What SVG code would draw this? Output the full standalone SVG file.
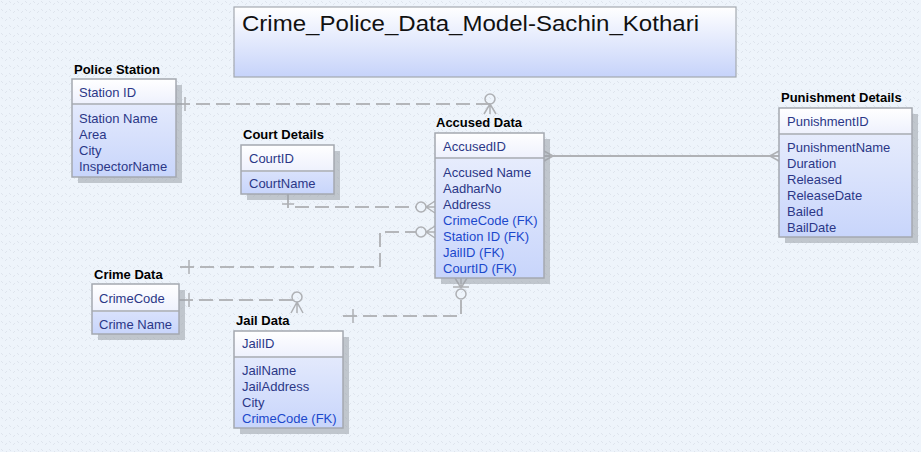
<svg xmlns="http://www.w3.org/2000/svg" width="921" height="452" viewBox="0 0 921 452">
<defs>
<pattern id="bg" width="8" height="8" patternUnits="userSpaceOnUse">
<rect width="8" height="8" fill="#eef4fb"/>
<path d="M1,1 l2,2 M5,5 l2,-2" stroke="#d9e0ea" stroke-width="0.8"/>
</pattern>
<linearGradient id="title" x1="0" y1="0" x2="0" y2="1">
<stop offset="0" stop-color="#ffffff"/>
<stop offset="1" stop-color="#c6d3fa"/>
</linearGradient>
<linearGradient id="head" x1="0" y1="0" x2="0" y2="1">
<stop offset="0" stop-color="#ffffff"/>
<stop offset="1" stop-color="#eef1fd"/>
</linearGradient>
<linearGradient id="body" x1="0" y1="0" x2="0" y2="1">
<stop offset="0" stop-color="#edf1fd"/>
<stop offset="1" stop-color="#c8d5fb"/>
</linearGradient>
</defs>
<style>
.shadow{fill:#9aa0a8;opacity:0.55}
.hd{fill:url(#head);stroke:none}
.bd{fill:url(#body);stroke:none}
.frame{fill:none;stroke:#a4a8b0;stroke-width:1.5}
.div{stroke:#b8bcc4;stroke-width:2}
.lbl{font-family:"Liberation Sans",Arial,sans-serif;font-size:13px;font-weight:bold;fill:#000}
.at{font-family:"Liberation Sans",Arial,sans-serif;font-size:13px;fill:#2b3787}
.fk{font-family:"Liberation Sans",Arial,sans-serif;font-size:13px;fill:#1b48cc}
.dash{fill:none;stroke:#b4b6ba;stroke-width:2;stroke-dasharray:14,6}
.sym{fill:none;stroke:#aeb0b4;stroke-width:1.5}
</style>
<rect width="921" height="452" fill="url(#bg)"/>

<g id="title-box">
<rect x="234" y="7" width="502" height="70" fill="url(#title)" stroke="#a4a8b0" stroke-width="1.2"/>
<text x="242" y="31" font-family="Liberation Sans,Arial,sans-serif" font-size="22" fill="#111" textLength="457" lengthAdjust="spacingAndGlyphs">Crime_Police_Data_Model-Sachin_Kothari</text>
</g>

<g id="connectors">
<!-- Police Station -> Accused Data -->
<path class="dash" d="M176,104 H490"/>
<path class="sym" d="M185,97 V111"/>
<circle class="sym" cx="490" cy="99" r="5"/>
<path class="sym" d="M490,104 V114 M490,104 L484,114 M490,104 L496,114"/>
<!-- Court Details -> Accused Data -->
<path class="dash" d="M288,194 V207 H416"/>
<path class="sym" d="M282,204 H294"/>
<circle class="sym" cx="421" cy="207" r="5"/>
<path class="sym" d="M426,207 H435 M426,207 L435,201 M426,207 L435,213"/>
<!-- Crime Data -> Accused Data -->
<path class="dash" d="M180,267 H380 V232 H416"/>
<path class="sym" d="M189,260 V274"/>
<circle class="sym" cx="421" cy="232" r="5"/>
<path class="sym" d="M426,232 H435 M426,232 L435,226 M426,232 L435,238"/>
<!-- Crime Data -> Jail Data -->
<path class="dash" d="M179,300 H297"/>
<path class="sym" d="M189,293 V307"/>
<circle class="sym" cx="297" cy="297" r="5"/>
<path class="sym" d="M297,302 V313 M297,302 L291,313 M297,302 L303,313"/>
<!-- Jail Data -> Accused Data -->
<path class="dash" d="M343,316 H461 V300"/>
<path class="sym" d="M353,309 V323"/>
<circle class="sym" cx="461" cy="294" r="5"/>
<path class="sym" d="M461,288 V278 M461,288 L455,278 M461,288 L467,278 M453,287 H469"/>
<!-- Accused Data -> Punishment Details -->
<path d="M544,156 H779" fill="none" stroke="#b0b2b6" stroke-width="2"/>
<path class="sym" d="M553,156 L544,151 M553,156 L544,161"/>
<path class="sym" d="M770,156 L779,151 M770,156 L779,161"/>
</g>

<g id="police-station">
<rect class="shadow" x="78" y="85" width="104" height="98"/>
<rect class="bd" x="72" y="79" width="104" height="98"/>
<rect class="hd" x="72" y="79" width="104" height="25"/>
<line class="div" x1="72" y1="104" x2="176" y2="104"/>
<rect class="frame" x="72" y="79" width="104" height="98"/>
<text class="lbl" x="74" y="74">Police Station</text>
<text class="at" x="79" y="97">Station ID</text>
<text class="at" x="79" y="123">Station Name</text>
<text class="at" x="79" y="139">Area</text>
<text class="at" x="79" y="155">City</text>
<text class="at" x="79" y="171">InspectorName</text>
</g>

<g id="court-details">
<rect class="shadow" x="247" y="151" width="93" height="49"/>
<rect class="bd" x="241" y="145" width="93" height="49"/>
<rect class="hd" x="241" y="145" width="93" height="26"/>
<line class="div" x1="241" y1="171" x2="334" y2="171"/>
<rect class="frame" x="241" y="145" width="93" height="49"/>
<text class="lbl" x="243" y="139">Court Details</text>
<text class="at" x="249" y="163">CourtID</text>
<text class="at" x="249" y="188">CourtName</text>
</g>

<g id="accused-data">
<rect class="shadow" x="441" y="139" width="109" height="145"/>
<rect class="bd" x="435" y="133" width="109" height="145"/>
<rect class="hd" x="435" y="133" width="109" height="25"/>
<line class="div" x1="435" y1="158" x2="544" y2="158"/>
<rect class="frame" x="435" y="133" width="109" height="145"/>
<text class="lbl" x="436" y="127">Accused Data</text>
<text class="at" x="443" y="151">AccusedID</text>
<text class="at" x="443" y="177">Accused Name</text>
<text class="at" x="443" y="193">AadharNo</text>
<text class="at" x="443" y="209">Address</text>
<text class="fk" x="443" y="225">CrimeCode (FK)</text>
<text class="fk" x="443" y="241">Station ID (FK)</text>
<text class="fk" x="443" y="257">JailID (FK)</text>
<text class="fk" x="443" y="273">CourtID (FK)</text>
</g>

<g id="punishment-details">
<rect class="shadow" x="785" y="114" width="133" height="129"/>
<rect class="bd" x="779" y="108" width="133" height="129"/>
<rect class="hd" x="779" y="108" width="133" height="26"/>
<line class="div" x1="779" y1="134" x2="912" y2="134"/>
<rect class="frame" x="779" y="108" width="133" height="129"/>
<text class="lbl" x="781" y="102">Punishment Details</text>
<text class="at" x="787" y="126">PunishmentID</text>
<text class="at" x="787" y="152">PunishmentName</text>
<text class="at" x="787" y="168">Duration</text>
<text class="at" x="787" y="184">Released</text>
<text class="at" x="787" y="200">ReleaseDate</text>
<text class="at" x="787" y="216">Bailed</text>
<text class="at" x="787" y="232">BailDate</text>
</g>

<g id="crime-data">
<rect class="shadow" x="98" y="290" width="87" height="50"/>
<rect class="bd" x="92" y="284" width="87" height="50"/>
<rect class="hd" x="92" y="284" width="87" height="27"/>
<line class="div" x1="92" y1="311" x2="179" y2="311"/>
<rect class="frame" x="92" y="284" width="87" height="50"/>
<text class="lbl" x="94" y="279">Crime Data</text>
<text class="at" x="99" y="303">CrimeCode</text>
<text class="at" x="99" y="329">Crime Name</text>
</g>

<g id="jail-data">
<rect class="shadow" x="240" y="337" width="109" height="97"/>
<rect class="bd" x="234" y="331" width="109" height="97"/>
<rect class="hd" x="234" y="331" width="109" height="26"/>
<line class="div" x1="234" y1="357" x2="343" y2="357"/>
<rect class="frame" x="234" y="331" width="109" height="97"/>
<text class="lbl" x="236" y="325">Jail Data</text>
<text class="at" x="242" y="348">JailID</text>
<text class="at" x="242" y="375">JailName</text>
<text class="at" x="242" y="391">JailAddress</text>
<text class="at" x="242" y="407">City</text>
<text class="fk" x="242" y="423">CrimeCode (FK)</text>
</g>
</svg>
